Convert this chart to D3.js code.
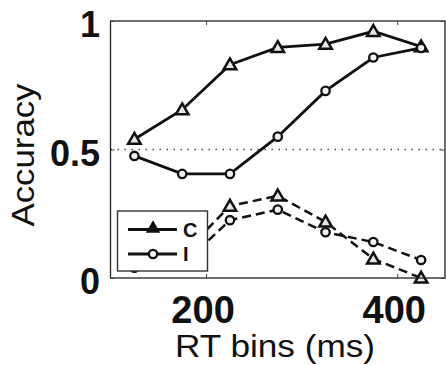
<!DOCTYPE html>
<html><head><meta charset="utf-8">
<script src="https://cdn.jsdelivr.net/npm/d3@7"></script>
<style>html,body{margin:0;padding:0;background:#fff;}svg{display:block;}</style>
</head><body>
<svg id="chart" width="446" height="365"></svg>
<script>
const bins = [125, 175, 225, 275, 325, 375, 425];
const correctC = [0.54, 0.655, 0.83, 0.897, 0.91, 0.96, 0.90];
const correctI = [0.475, 0.405, 0.405, 0.55, 0.728, 0.858, 0.895];
const errorC = [0.12, 0.09, 0.28, 0.32, 0.218, 0.074, 0.0];
const errorI = [0.04, 0.05, 0.225, 0.266, 0.178, 0.14, 0.07];
const xTicks = [200, 400];
const yTicks = [0, 0.5, 1];
const yTickLabels = ["0", "0.5", "1"];
const legendLabels = ["C", "I"];

const svg = d3.select("#chart");
const L = 110.5, R = 445, T = 21, B = 278;
const x = d3.scaleLinear().domain([100, 450]).range([L, R]);
const y = d3.scaleLinear().domain([0, 1]).range([B, T]);
const font = "'Liberation Sans', Arial, Helvetica, sans-serif";
const ink = "#111";

// dotted chance line
svg.append("line").attr("x1", L).attr("x2", R).attr("y1", y(0.5)).attr("y2", y(0.5))
  .attr("stroke", "#444").attr("stroke-width", 1.4).attr("stroke-dasharray", "1.5,5.5");

const line = d3.line().x(d => x(d[0])).y(d => y(d[1]));
const tri = d3.symbol().type(d3.symbolTriangle).size(68);
const series = [
  {vals: correctC, dash: null, marker: "tri"},
  {vals: correctI, dash: null, marker: "circ"},
  {vals: errorC, dash: "9,5", marker: "tri"},
  {vals: errorI, dash: "9,5", marker: "circ"}
];
series.forEach(s => {
  const pts = bins.map((b, i) => [b, s.vals[i]]);
  svg.append("path").attr("d", line(pts)).attr("fill", "none")
    .attr("stroke", ink).attr("stroke-width", s.dash ? 2.5 : 2.8)
    .attr("stroke-dasharray", s.dash);
  const g = svg.append("g");
  pts.forEach(p => {
    if (s.marker === "tri") {
      g.append("path").attr("d", tri()).attr("transform", `translate(${x(p[0])},${y(p[1]) + 1})`)
        .attr("fill", "#e8e8e8").attr("stroke", ink).attr("stroke-width", 2.5);
    } else {
      g.append("circle").attr("cx", x(p[0])).attr("cy", y(p[1])).attr("r", 4.2)
        .attr("fill", "#f0f0f0").attr("stroke", ink).attr("stroke-width", 2.3);
    }
  });
});

// axes box
svg.append("rect").attr("x", L).attr("y", T).attr("width", R - L).attr("height", B - T)
  .attr("fill", "none").attr("stroke", "#222").attr("stroke-width", 1.3);

// ticks
const xAxB = svg.append("g").attr("transform", `translate(0,${B})`)
  .call(d3.axisBottom(x).tickValues(xTicks).tickSize(-4).tickFormat(""));
const xAxT = svg.append("g").attr("transform", `translate(0,${T})`)
  .call(d3.axisTop(x).tickValues(xTicks).tickSize(-4).tickFormat(""));
const yAxL = svg.append("g").attr("transform", `translate(${L},0)`)
  .call(d3.axisLeft(y).tickValues(yTicks).tickSize(-4).tickFormat(""));
const yAxR = svg.append("g").attr("transform", `translate(${R},0)`)
  .call(d3.axisRight(y).tickValues(yTicks).tickSize(-4).tickFormat(""));
[xAxB, xAxT, yAxL, yAxR].forEach(a => {
  a.select(".domain").remove();
  a.selectAll(".tick line").attr("stroke", "#444").attr("stroke-width", 1);
});

// tick labels
svg.append("g").selectAll("text").data(xTicks).join("text")
  .attr("x", d => x(d) - 3).attr("y", 323).attr("text-anchor", "middle")
  .attr("font-family", font).attr("font-weight", "bold").attr("font-size", 38)
  .attr("fill", ink).text(d => d);
svg.append("g").selectAll("text").data(yTicks).join("text")
  .attr("x", 100).attr("y", d => y(d) + 16).attr("text-anchor", "end")
  .attr("font-family", font).attr("font-weight", "bold").attr("font-size", 36)
  .attr("fill", ink).text((d, i) => yTickLabels[i]);

// axis titles
svg.append("text").attr("x", 275).attr("y", 357).attr("text-anchor", "middle")
  .attr("font-family", font).attr("font-size", 32).attr("fill", ink)
  .attr("textLength", 200).attr("lengthAdjust", "spacingAndGlyphs").text("RT bins (ms)");
svg.append("text").attr("transform", "translate(33.5,155) rotate(-90)").attr("text-anchor", "middle")
  .attr("font-family", font).attr("font-size", 32).attr("fill", ink)
  .attr("textLength", 143).attr("lengthAdjust", "spacingAndGlyphs").text("Accuracy");

// legend
const lg = svg.append("g");
lg.append("rect").attr("x", 117.5).attr("y", 211).attr("width", 90).attr("height", 60)
  .attr("fill", "#fff").attr("stroke", "#333").attr("stroke-width", 1.4);
legendLabels.forEach((lab, i) => {
  const ly = i === 0 ? 229.5 : 254;
  lg.append("line").attr("x1", 128).attr("x2", 177).attr("y1", ly).attr("y2", ly)
    .attr("stroke", ink).attr("stroke-width", 2.8);
  if (i === 0) {
    lg.append("path").attr("d", d3.symbol().type(d3.symbolTriangle).size(55)())
      .attr("transform", `translate(153,${ly - 1})`).attr("fill", ink).attr("stroke", ink).attr("stroke-width", 1.8);
  } else {
    lg.append("circle").attr("cx", 153).attr("cy", ly).attr("r", 4.2)
      .attr("fill", "#f0f0f0").attr("stroke", ink).attr("stroke-width", 2.3);
  }
  lg.append("text").attr("x", 183).attr("y", ly + 7).attr("font-family", font)
    .attr("font-size", 20).attr("font-weight", "bold").attr("fill", ink).text(lab);
});
</script>
</body></html>
